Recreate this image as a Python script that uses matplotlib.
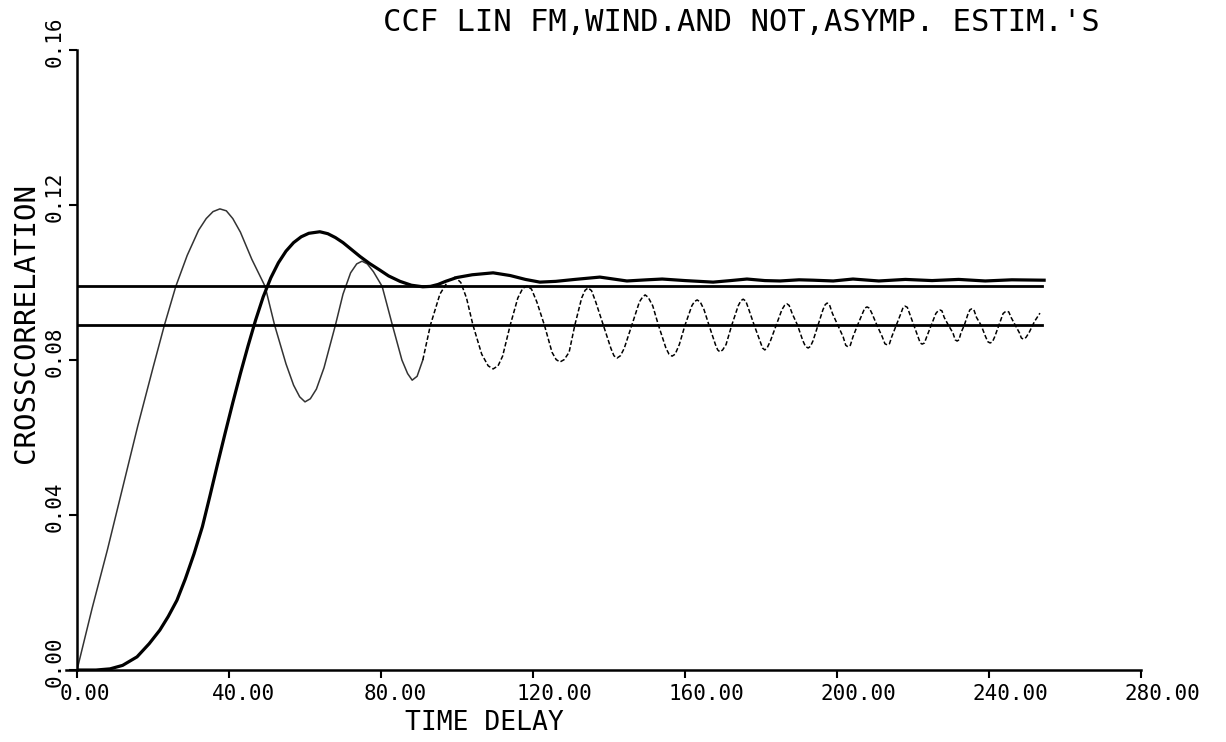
import numpy as np
import matplotlib
matplotlib.use("Agg")
import matplotlib.pyplot as plt
from matplotlib.transforms import ScaledTranslation

# thin (windowed) estimate
lag_a = [0, 4, 8, 12, 16, 20, 23, 26, 29, 32, 34, 35.8, 37.6, 39.3, 41, 43, 46, 49.5, 52, 55,
         57, 58.6, 60, 61.4, 63, 65, 68, 70, 72, 73.6, 75, 76.4, 78, 80.3, 83, 85.5, 87, 88.2,
         89.5, 91, 93, 95.5, 97.7, 99.5, 101, 102.5, 104.2, 106.5, 108.2, 109.5, 110.8, 112,
         114, 116, 117.3, 118.4, 119.6, 121, 123, 125, 126.1, 127.1, 128.2, 129.5, 131, 132.8,
         133.7, 134.5, 135.4, 136.5, 138.5, 140.5, 141.3, 142.1, 143, 144, 146, 148, 148.8,
         149.5, 150.3, 151.5, 153, 155, 155.8, 156.6, 157.4, 158.5, 160, 161.8, 162.5, 163.2,
         164, 165, 166.3, 168, 168.6, 169.2, 169.9, 170.8, 172.3, 174, 174.7, 175.3, 176, 176.8,
         178.2, 179.7, 180.4, 181, 181.6, 182.5, 184, 185.5, 186.2, 186.8, 187.4, 188.2, 189.6,
         191, 191.7, 192.4, 193, 193.7, 195, 196.3, 196.9, 197.4, 198, 198.8, 200.2, 201.6,
         202.3, 202.9, 203.5, 204.2, 205.4, 206.7, 207.3, 207.9, 208.5, 209.2, 210.5, 211.9,
         212.6, 213.2, 213.8, 214.4, 215.6, 216.8, 217.4, 217.9, 218.5, 219.1, 220.2, 221.3,
         221.9, 222.4, 223, 223.6, 224.8, 226, 226.6, 227.1, 227.6, 228.2, 229.3, 230.5, 231.1,
         231.6, 232.1, 232.6, 233.5, 234.5, 235, 235.5, 236, 236.7, 237.9, 239.1, 239.7, 240.3,
         240.9, 241.5, 242.6, 243.7, 244.2, 244.7, 245.2, 245.8, 246.9, 248, 248.5, 249, 249.7,
         250.5, 252, 253.4]
ccf_a = [0.000, 0.016, 0.031, 0.047, 0.063, 0.078, 0.089, 0.099, 0.107, 0.1135, 0.1165, 0.1183,
         0.119, 0.1185, 0.1165, 0.113, 0.106, 0.099, 0.089, 0.079, 0.0735, 0.0705, 0.0692,
         0.0700, 0.0725, 0.078, 0.089, 0.097, 0.1025, 0.1048, 0.1055, 0.1048, 0.1028, 0.099,
         0.089, 0.080, 0.0765, 0.0748, 0.0758, 0.080, 0.089, 0.097, 0.1005, 0.1014, 0.1000,
         0.096, 0.089, 0.0815, 0.0785, 0.0777, 0.0785, 0.081, 0.089, 0.096, 0.0985, 0.0991,
         0.0983, 0.095, 0.089, 0.082, 0.0801, 0.0795, 0.0801, 0.082, 0.089, 0.096, 0.0980,
         0.0986, 0.0979, 0.095, 0.089, 0.083, 0.0811, 0.0805, 0.0811, 0.083, 0.089, 0.095,
         0.0962, 0.0968, 0.0962, 0.094, 0.089, 0.083, 0.0815, 0.081, 0.0815, 0.084, 0.089,
         0.094, 0.0951, 0.0955, 0.0950, 0.093, 0.089, 0.084, 0.0826, 0.0821, 0.0826, 0.084,
         0.089, 0.094, 0.0953, 0.0957, 0.0952, 0.093, 0.089, 0.085, 0.0831, 0.0826, 0.0831,
         0.085, 0.089, 0.093, 0.0941, 0.0945, 0.0941, 0.092, 0.089, 0.085, 0.0835, 0.0831,
         0.0835, 0.085, 0.089, 0.093, 0.0943, 0.0947, 0.0943, 0.092, 0.089, 0.086, 0.0838,
         0.0834, 0.0838, 0.086, 0.089, 0.092, 0.0934, 0.0937, 0.0934, 0.092, 0.089, 0.086,
         0.0842, 0.0839, 0.0842, 0.086, 0.089, 0.092, 0.0936, 0.0939, 0.0936, 0.092, 0.089,
         0.086, 0.0844, 0.0841, 0.0844, 0.086, 0.089, 0.092, 0.0927, 0.0929, 0.0927, 0.091,
         0.089, 0.087, 0.0852, 0.0849, 0.0852, 0.087, 0.089, 0.092, 0.0930, 0.0932, 0.0930,
         0.091, 0.089, 0.086, 0.0847, 0.0844, 0.0847, 0.086, 0.089, 0.092, 0.0924, 0.0926,
         0.0924, 0.091, 0.089, 0.087, 0.0857, 0.0854, 0.0858, 0.087, 0.090, 0.0921]

# thick (not windowed) estimate
lag_b = [0, 5, 8.7, 12, 15.8, 19, 21.8, 24, 26.3, 28.5, 30.8, 33, 35, 37, 39, 41, 43, 45, 47,
         49, 51, 53, 55, 57, 59, 61, 63.9, 66, 68, 70, 72, 74.5, 77, 79.7, 82, 85, 88, 91,
         93, 95, 97, 100, 104, 109.5, 114, 118, 121.8, 126, 131, 137.6, 144.7, 150, 154, 160,
         167.4, 172, 176.3, 181, 185, 190, 193.7, 199, 204.2, 211, 218, 225, 232, 239, 246,
         254.5]
ccf_b = [0, 0, 0.0003, 0.0012, 0.0034, 0.0068, 0.0103, 0.0138, 0.018, 0.0235, 0.0300, 0.0370,
         0.0450, 0.0532, 0.0612, 0.0690, 0.0765, 0.0836, 0.0903, 0.0963, 0.1012, 0.1051,
         0.1081, 0.1103, 0.1118, 0.1127, 0.1131, 0.1126, 0.1116, 0.1103, 0.1087,
         0.1067, 0.1049, 0.1032, 0.1017, 0.1003, 0.0993, 0.0989, 0.0990, 0.0995, 0.1003,
         0.1013, 0.1020, 0.1025, 0.1018, 0.1008, 0.1001, 0.1003, 0.1008, 0.1014, 0.1004,
         0.1007, 0.1009, 0.1005, 0.1001, 0.1005, 0.1009, 0.1005, 0.1004, 0.1007, 0.1006,
         0.1004, 0.1009, 0.1004, 0.1008, 0.1005, 0.1008, 0.1004, 0.1007, 0.1006]

# asymptotic levels
asymp_levels = [0.0991, 0.089]
asymp_end = 254

xticks = [0, 40, 80, 120, 160, 200, 240, 280]
yticks = [0.0, 0.04, 0.08, 0.12, 0.16]

mono = "DejaVu Sans Mono"

fig = plt.figure(figsize=(12.26, 7.42), dpi=100)
ax = fig.add_axes([0.0628, 0.0970, 0.8679, 0.8356])

lag_a = np.array(lag_a)
ccf_a = np.array(ccf_a)
split = int(np.searchsorted(lag_a, 90))
ax.plot(lag_a[:split + 1], ccf_a[:split + 1], color="#333333", lw=1.1)
ax.plot(lag_a[split:], ccf_a[split:], color="black", lw=1.1, ls=(0, (3, 1.5)))
ax.plot(lag_b, ccf_b, color="black", lw=2.3)
for lev in asymp_levels:
    ax.plot([0, asymp_end], [lev, lev], color="black", lw=2.0)

ax.set_xlim(0, 280)
ax.set_ylim(0, 0.16)
ax.spines["top"].set_visible(False)
ax.spines["right"].set_visible(False)
ax.spines["left"].set_linewidth(1.8)
ax.spines["bottom"].set_linewidth(1.8)
ax.spines["bottom"].set_bounds(-3, 280)

ax.set_xticks(xticks)
ax.set_xticklabels(["%.2f" % v for v in xticks], family=mono, fontsize=15, ha="left")
ax.set_yticks(yticks)
ax.set_yticklabels(["%.2f" % v for v in yticks], family=mono, fontsize=15,
                   rotation=90, va="bottom", ha="right")
ax.tick_params(axis="both", direction="out", length=6, width=1.5)
ax.tick_params(axis="x", pad=4)
ax.tick_params(axis="y", pad=3)

off_x = ScaledTranslation(-0.17, 0, fig.dpi_scale_trans)
for lab in ax.get_xticklabels():
    lab.set_transform(lab.get_transform() + off_x)
off_y = ScaledTranslation(0, -0.17, fig.dpi_scale_trans)
for lab in ax.get_yticklabels():
    lab.set_transform(lab.get_transform() + off_y)

fig.text(0.605, 0.970, "CCF LIN FM,WIND.AND NOT,ASYMP. ESTIM.'S", family=mono,
         fontsize=22, ha="center", va="center")
fig.text(0.395, 0.026, "TIME DELAY", family=mono, fontsize=19, ha="center", va="center")
fig.text(0.021, 0.565, "CROSSCORRELATION", family=mono, fontsize=21, rotation=90,
         ha="center", va="center")

fig.savefig("out.png", dpi=100)
